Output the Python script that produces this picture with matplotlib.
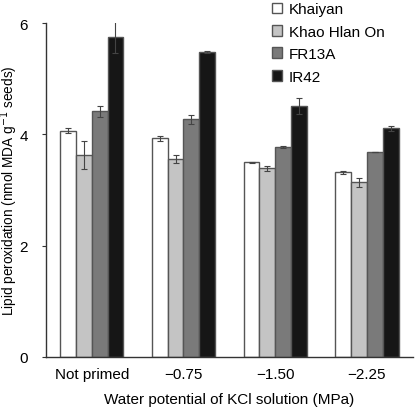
import numpy as np
import matplotlib
matplotlib.use('Agg')
import matplotlib.pyplot as plt

plt.rcParams['font.family'] = ['Liberation Sans', 'DejaVu Sans']

groups = ['Not primed', '\u22120.75', '\u22121.50', '\u22122.25']
cultivars = ['Khaiyan', 'Khao Hlan On', 'FR13A', 'IR42']
khaiyan = [4.07, 3.93, 3.50, 3.32]
khaiyan_err = [0.05, 0.04, 0.01, 0.03]
khao = [3.63, 3.56, 3.39, 3.14]
khao_err = [0.25, 0.07, 0.04, 0.08]
fr13a = [4.42, 4.27, 3.77, 3.68]
fr13a_err = [0.10, 0.08, 0.02, 0.0]
ir42 = [5.75, 5.48, 4.51, 4.11]
ir42_err = [0.29, 0.02, 0.14, 0.05]

colors = ['#ffffff', '#c4c4c4', '#7a7a7a', '#161616']
vals = [khaiyan, khao, fr13a, ir42]
errs = [khaiyan_err, khao_err, fr13a_err, ir42_err]

fig = plt.figure(figsize=(4.17, 4.10), dpi=100)
ax = fig.add_axes([0.110, 0.127, 0.880, 0.814])

x = np.arange(len(groups))
w = 0.172
for i in range(4):
    ax.bar(x + (i - 1.5) * w, vals[i], w, color=colors[i], edgecolor='#555555',
           linewidth=1.0, label=cultivars[i], yerr=errs[i],
           error_kw=dict(ecolor='#444444', elinewidth=0.8, capsize=2.5, capthick=0.8))

ax.set_xlim(-0.5, 3.5)
ax.set_ylim(0, 6)
ax.set_yticks([0, 2, 4, 6])
ax.set_xticks(x)
ax.set_xticklabels(groups)
ax.tick_params(axis='x', length=0, labelsize=11, pad=7)
ax.tick_params(axis='y', length=3, labelsize=11, pad=10, color='#333333')
for s in ['top', 'right']:
    ax.spines[s].set_visible(False)
for s in ['left', 'bottom']:
    ax.spines[s].set_color('#333333')
    ax.spines[s].set_linewidth(1.0)

ax.set_xlabel('Water potential of KCl solution (MPa)', fontsize=11, labelpad=8)
ax.set_ylabel('Lipid peroxidation (nmol MDA g$^{-1}$ seeds)', fontsize=9.8)
ax.yaxis.set_label_coords(-0.07, 0.5)

ax.legend(loc='upper left', bbox_to_anchor=(0.59, 1.09), frameon=False, fontsize=11,
          handlelength=0.7, handleheight=0.7, handletextpad=0.45, labelspacing=0.55,
          borderpad=0.1)

fig.savefig('out.png', dpi=100)
